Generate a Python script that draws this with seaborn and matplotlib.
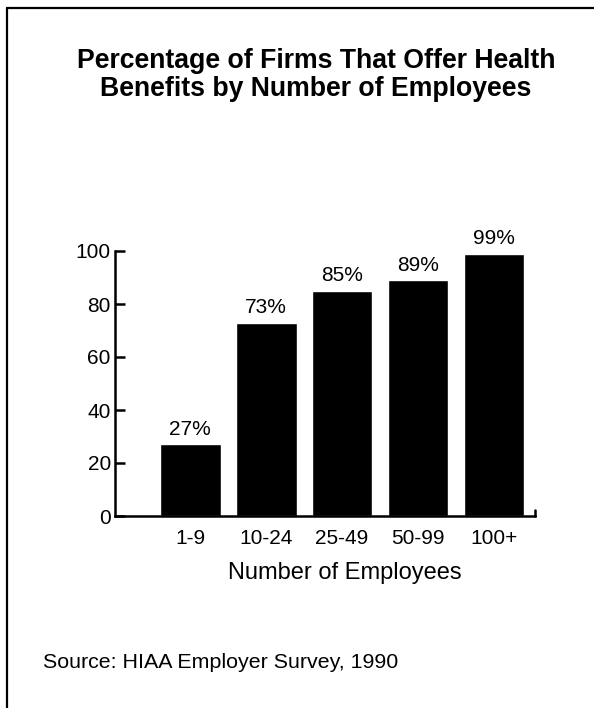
import matplotlib
matplotlib.use('Agg')
import matplotlib.pyplot as plt
import seaborn as sns
import pandas as pd
from matplotlib.lines import Line2D

categories = ['1-9', '10-24', '25-49', '50-99', '100+']
values = [27, 73, 85, 89, 99]
yticks = [0, 20, 40, 60, 80, 100]
title = 'Percentage of Firms That Offer Health\nBenefits by Number of Employees'
xlabel = 'Number of Employees'
source = 'Source: HIAA Employer Survey, 1990'

sns.set_theme(style='ticks')
plt.rcParams['font.family'] = ['Liberation Sans', 'DejaVu Sans']
plt.rcParams['text.color'] = 'black'
plt.rcParams['axes.labelcolor'] = 'black'
plt.rcParams['xtick.color'] = 'black'
plt.rcParams['ytick.color'] = 'black'

W, H = 594, 708
fig = plt.figure(figsize=(W / 100, H / 100), dpi=100)
fig.patch.set_facecolor('white')
ax = fig.add_axes([115 / W, 192 / H, 420 / W, 265 / H])

df = pd.DataFrame({'size': categories, 'pct': values})
sns.barplot(data=df, x='size', y='pct', color='black', saturation=1,
            width=0.8, ax=ax, errorbar=None)

ax.set_xlim(-0.99, 4.54)
ax.set_ylim(0, 100)
ax.set_yticks(yticks)
ax.tick_params(axis='y', direction='in', length=7, width=1.8,
               labelsize=15, pad=3)
ax.tick_params(axis='x', length=0, labelsize=15, pad=9)
for s in ['top', 'right']:
    ax.spines[s].set_visible(False)
for s in ['left', 'bottom']:
    ax.spines[s].set_linewidth(1.8)
    ax.spines[s].set_color('black')

ax.bar_label(ax.containers[0], labels=[f'{v}%' for v in values],
             padding=4, fontsize=15)

ax.set_ylabel('')
ax.set_xlabel(xlabel, fontsize=17)
ax.xaxis.set_label_coords((345 - 115) / 420, -(573 - 516) / 265)
ax.xaxis.label.set_va('center')

# small upturned end on the baseline
ax.add_artist(Line2D([1, 1], [0, 6 / 265], transform=ax.transAxes,
                     color='black', lw=1.8, clip_on=False))

fig.text(316 / W, 1 - 75 / H, title, ha='center', va='center',
         fontsize=19.2, fontweight='bold', linespacing=1.15)
fig.text(43 / W, 1 - 663 / H, source, ha='left', va='center', fontsize=15.4)

# frame lines (top and left)
fig.add_artist(Line2D([7 / W, 1], [1 - 8 / H, 1 - 8 / H],
                      transform=fig.transFigure, color='black', lw=1.6))
fig.add_artist(Line2D([7 / W, 7 / W], [0, 1 - 8 / H],
                      transform=fig.transFigure, color='black', lw=1.6))

fig.savefig('out.png', dpi=100, facecolor='white')
